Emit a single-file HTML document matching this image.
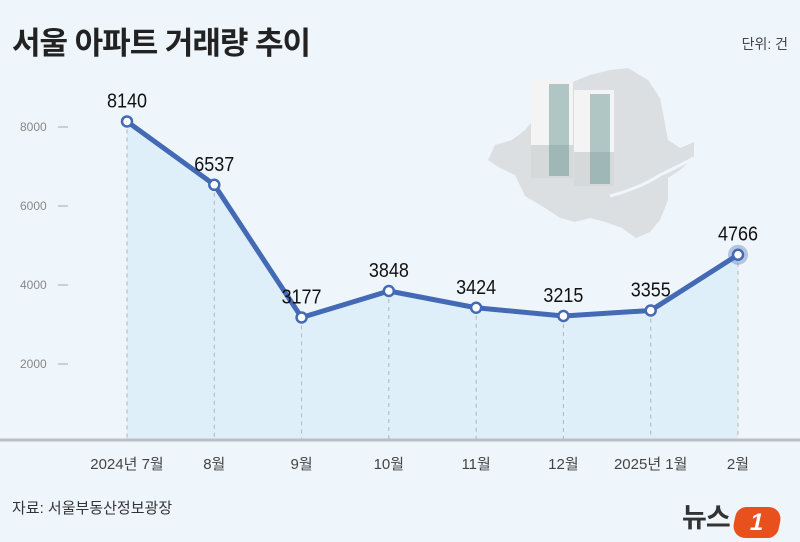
<!DOCTYPE html>
<html><head><meta charset="utf-8">
<style>
body{margin:0;background:#eff6fb;}
#wrap{position:relative;width:800px;height:542px;overflow:hidden;background:#eff6fb;font-family:"Liberation Sans","Noto Sans CJK KR",sans-serif;}
.t{position:absolute;white-space:nowrap;}
</style></head><body>
<div id="wrap">
<div class="t" style="left:12px;top:18px;font-size:31px;font-weight:bold;color:#222;letter-spacing:-1px;">서울 아파트 거래량 추이</div>
<div class="t" style="right:12px;top:34px;font-size:14px;color:#444;">단위: 건</div>
<div class="t" style="left:12px;top:497px;font-size:15px;color:#333;">자료: 서울부동산정보광장</div>
<svg id="chart" width="800" height="542" style="position:absolute;left:0;top:0">
  <g>
    <polygon fill="#dcdfe2" points="535,118 548,95 565,85 590,75 610,70 628,68 648,80 660,98 664,118 668,140 680,148 694,142 694,158 680,170 668,178 668,200 660,220 650,232 636,238 622,228 605,222 590,218 575,222 560,218 545,208 525,196 515,175 500,168 488,160 495,145 512,140 525,130"/>
    <path d="M610,196 Q640,188 660,175 Q675,168 694,158" stroke="#eff6fb" stroke-width="3" fill="none"/>
    <rect x="531" y="80" width="42" height="98" fill="#f4f4f4"/>
    <rect x="531" y="145" width="42" height="33" fill="#d6d9da"/>
    <rect x="549" y="84" width="20" height="92" fill="#5d8f8a" opacity="0.45"/>
    <rect x="574" y="90" width="40" height="96" fill="#f4f4f4"/>
    <rect x="574" y="152" width="40" height="34" fill="#d6d9da"/>
    <rect x="590" y="94" width="20" height="90" fill="#5d8f8a" opacity="0.45"/>
  </g>
  <g id="grid"></g>
  <g id="area"></g>
  <line x1="0" y1="440" x2="800" y2="440" stroke="#b9bfc4" stroke-width="3"/>
  <g id="marks"></g>
</svg>
<div class="t" style="left:682px;top:496px;">
  <span style="font-size:27px;font-weight:bold;color:#333;letter-spacing:-1px;">뉴스</span>
  <span style="display:inline-block;width:46px;height:31px;background:#e8501e;border-radius:9px 15px 9px 15px;transform:skewX(-12deg);vertical-align:middle;color:#fff;font-weight:bold;font-size:24px;text-align:center;line-height:31px;">1</span>
</div>
</div>
<script>
const categories=["2024년 7월","8월","9월","10월","11월","12월","2025년 1월","2월"];
const values=[8140,6537,3177,3848,3424,3215,3355,4766];
const yTicks=[2000,4000,6000,8000];
const NS="http://www.w3.org/2000/svg";
const x0=127,x1=738,baseY=443,scaleY=0.0395;
function xs(i){return x0+(x1-x0)*i/(categories.length-1);}
function ys(v){return baseY-v*scaleY;}
function mk(tag,attrs,parent){const e=document.createElementNS(NS,tag);for(const k in attrs)e.setAttribute(k,attrs[k]);parent.appendChild(e);return e;}
const grid=document.getElementById('grid'),area=document.getElementById('area'),marks=document.getElementById('marks');
yTicks.forEach(t=>{
  const tx=mk('text',{x:20,y:ys(t)+4,'font-size':12,fill:'#888'},grid);
  tx.textContent=t;
  
  
  const tl=mk('line',{x1:58,x2:68,y1:ys(t),y2:ys(t),stroke:'#aaa'},grid);
  
  
});
let pts=values.map((v,i)=>xs(i)+','+ys(v)).join(' ');
const ar=mk('polygon',{points:xs(0)+',440 '+pts+' '+xs(values.length-1)+',440',fill:'#d9ecf8',opacity:0.75},area);


values.forEach((v,i)=>{
  const dl=mk('line',{x1:xs(i),x2:xs(i),y1:ys(v),y2:440,stroke:'#b4b4b4','stroke-dasharray':'4,4'},area);
  
  
  const xl=mk('text',{x:xs(i),y:469,'font-size':15,fill:'#444','text-anchor':'middle'},grid);
  xl.textContent=categories[i];
  
  
});
const ln=mk('polyline',{points:pts,fill:'none',stroke:'#4469b5','stroke-width':5,'stroke-linejoin':'round'},marks);


values.forEach((v,i)=>{
  if(i===values.length-1){
    const h=mk('circle',{cx:xs(i),cy:ys(v),r:10,fill:'#4469b5',opacity:0.35},marks);
    
    
  }
  const c=mk('circle',{cx:xs(i),cy:ys(v),r:5,fill:'#fff',stroke:'#4469b5','stroke-width':2.5},marks);
  
  
  const lb=mk('text',{x:xs(i),y:ys(v)-14,'font-size':20,fill:'#111','text-anchor':'middle',textLength:40,lengthAdjust:'spacingAndGlyphs'},marks);
  lb.textContent=v;
  
  
});
</script>
</body></html>
